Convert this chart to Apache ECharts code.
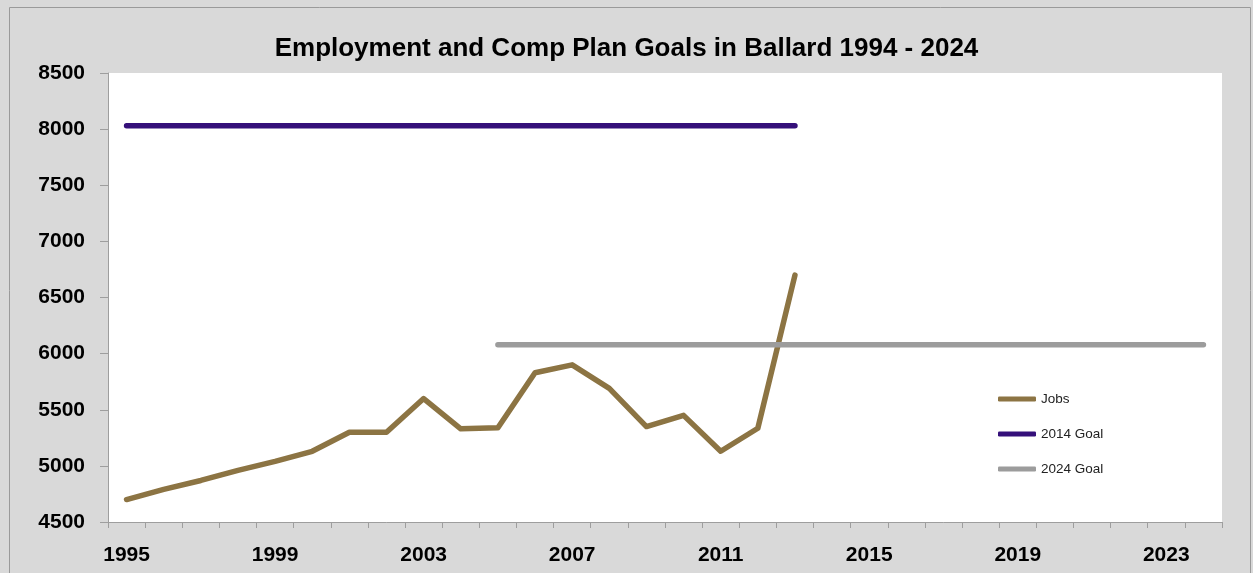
<!DOCTYPE html>
<html>
<head>
<meta charset="utf-8">
<script src="https://cdn.jsdelivr.net/npm/echarts@6/dist/echarts.min.js"></script>
<style>
html,body{margin:0;padding:0;background:#d9d9d9;}
#chart{width:1253px;height:573px;}
</style>
</head>
<body>
<div id="chart"></div>
<script>
var years = ['1995','1996','1997','1998','1999','2000','2001','2002','2003','2004','2005','2006','2007','2008','2009','2010','2011','2012','2013','2014','2015','2016','2017','2018','2019','2020','2021','2022','2023','2024'];
var jobs = [4700,4790,4870,4960,5040,5130,5300,5300,5600,5330,5340,5830,5900,5690,5350,5450,5130,5335,6700];
var goal2014 = [8030,8030,8030,8030,8030,8030,8030,8030,8030,8030,8030,8030,8030,8030,8030,8030,8030,8030,8030];
var goal2024 = [null,null,null,null,null,null,null,null,null,null,6080,6080,6080,6080,6080,6080,6080,6080,6080,6080,6080,6080,6080,6080,6080,6080,6080,6080,6080,6080];
var yTicks = [4500,5000,5500,6000,6500,7000,7500,8000,8500];

var chart = echarts.init(document.getElementById('chart'), null, {renderer:'canvas'});
var font = 'Liberation Sans, Arial, sans-serif';
chart.setOption({
  backgroundColor: '#d9d9d9',
  animation: false,
  graphic: [{
    type: 'rect', left: 7, top: 5, z: -1,
    shape: {width: 1241, height: 566},
    style: {fill: 'none', stroke: '#9a9a9a', lineWidth: 1}
  }],
  title: {
    text: 'Employment and Comp Plan Goals in Ballard 1994 - 2024',
    left: 'center', top: 31,
    textStyle: {fontFamily: font, fontWeight: 'bold', fontSize: 26, color: '#000'}
  },
  grid: {left: 108, right: 31, top: 73, bottom: 51, show: true, backgroundColor: '#ffffff', borderWidth: 0},
  legend: {
    orient: 'vertical', left: 993, top: 387,
    itemWidth: 38, itemHeight: 5, itemGap: 21, icon: 'roundRect',
    textStyle: {fontFamily: font, fontSize: 13.5, color: '#222'},
    data: ['Jobs', '2014 Goal', '2024 Goal']
  },
  xAxis: {
    type: 'category', data: years, boundaryGap: true,
    axisLine: {lineStyle: {color: '#9e9e9e', width: 1}},
    axisTick: {show: true, interval: 0, length: 6, lineStyle: {color: '#9e9e9e'}},
    axisLabel: {interval: 3, margin: 23, fontFamily: font, fontWeight: 'bold', fontSize: 21, color: '#000'},
    splitLine: {show: false}
  },
  yAxis: {
    type: 'value', min: yTicks[0], max: yTicks[yTicks.length-1], interval: 500,
    axisLine: {show: true, lineStyle: {color: '#9e9e9e', width: 1}},
    axisTick: {show: true, length: 8, lineStyle: {color: '#9e9e9e'}},
    axisLabel: {margin: 23, fontFamily: font, fontWeight: 'bold', fontSize: 21, color: '#000',
      formatter: function (v) { return String(v); }},
    splitLine: {show: false}
  },
  series: [
    {name: 'Jobs', type: 'line', data: jobs, showSymbol: false, symbol: 'none',
     lineStyle: {color: '#8c7443', width: 5.5, cap: 'round', join: 'round'}, itemStyle: {color: '#8c7443'}},
    {name: '2014 Goal', type: 'line', data: goal2014, showSymbol: false, symbol: 'none',
     lineStyle: {color: '#35107a', width: 5.5, cap: 'round'}, itemStyle: {color: '#35107a'}},
    {name: '2024 Goal', type: 'line', data: goal2024, showSymbol: false, symbol: 'none', connectNulls: false,
     lineStyle: {color: '#9c9c9c', width: 5.5, cap: 'round'}, itemStyle: {color: '#9c9c9c'}}
  ]
});
</script>
</body>
</html>
